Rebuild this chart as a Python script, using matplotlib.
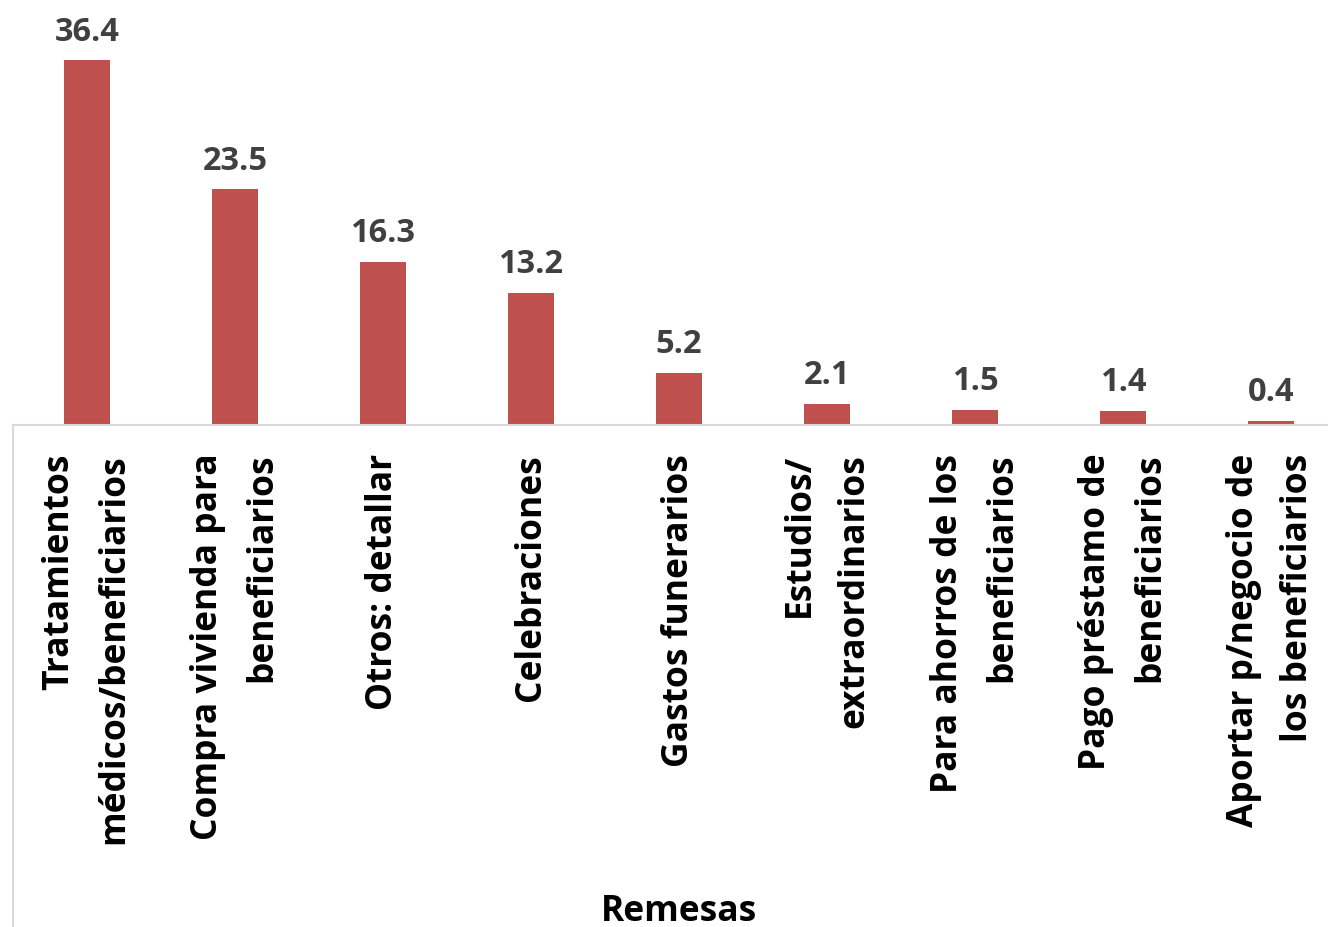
import matplotlib.pyplot as plt
from matplotlib.lines import Line2D

categorias = [
    "Tratamientos\nmédicos/beneficiarios",
    "Compra vivienda para\nbeneficiarios",
    "Otros: detallar",
    "Celebraciones",
    "Gastos funerarios",
    "Estudios/\nextraordinarios",
    "Para ahorros de los\nbeneficiarios",
    "Pago préstamo de\nbeneficiarios",
    "Aportar p/negocio de\nlos beneficiarios",
]
valores = [36.4, 23.5, 16.3, 13.2, 5.2, 2.1, 1.5, 1.4, 0.4]
titulo_x = "Remesas"

plt.rcParams['font.family'] = ['Open Sans', 'DejaVu Sans']

W, H = 1328, 928
fig = plt.figure(figsize=(W / 100, H / 100), dpi=100)
x0 = 13 / W
base = (H - 426) / H
ax = fig.add_axes([x0, base, (1345 - 13) / W, 426 / H])

pos = list(range(len(valores)))
bars = ax.bar(pos, valores, width=0.31, color='#C0504D')
ax.bar_label(bars, labels=[f"{v:.1f}" for v in valores], padding=9,
             fontsize=23.5, fontweight='bold', color='#404040')

ax.set_xlim(-0.5, len(valores) - 0.5)
ax.set_ylim(0, 42.5)
ax.set_yticks([])
ax.set_xticks(pos)
ax.set_xticklabels(categorias, rotation=90, ha='center', va='top',
                   multialignment='right', fontsize=25.5, fontweight='bold',
                   color='black', linespacing=1.7)
ax.tick_params(axis='x', length=0, pad=20)
for s in ['top', 'right', 'left']:
    ax.spines[s].set_visible(False)
ax.spines['bottom'].set_color('#D9D9D9')
ax.spines['bottom'].set_linewidth(1.5)
ax.set_xlabel(titulo_x, fontsize=25.5, fontweight='bold', labelpad=36)

# borde del área del gráfico por debajo del eje
fig.add_artist(Line2D([x0, x0], [0, base], transform=fig.transFigure,
                      color='#D9D9D9', lw=1.5))

fig.savefig('out.png', dpi=100)
